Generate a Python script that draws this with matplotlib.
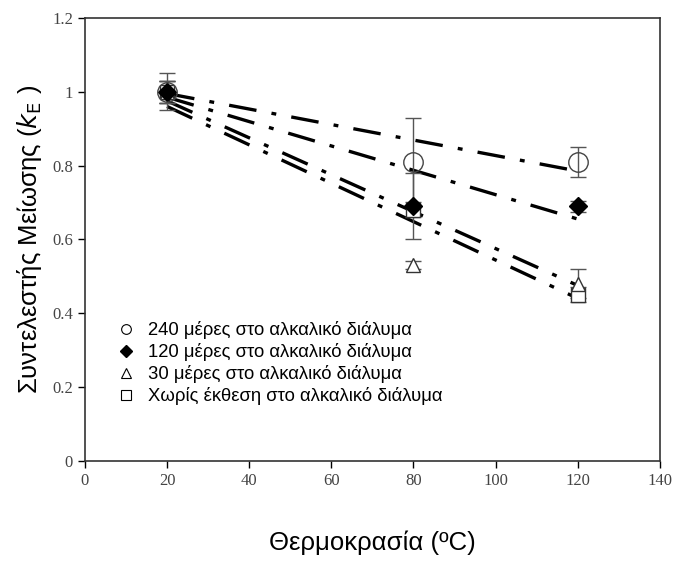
import matplotlib
matplotlib.use("Agg")
import matplotlib.pyplot as plt
from matplotlib.lines import Line2D

plt.rcParams['lines.scale_dashes'] = False

# temperatures (oC)
temps = [20, 80, 120]

# reduction factor kE per series
kE_240 = [1.00, 0.81, 0.81]
kE_120 = [1.00, 0.69, 0.69]
kE_30 = [1.00, 0.53, 0.48]
kE_0 = [1.00, 0.68, 0.45]

err_240 = [0.05, 0.12, 0.04]
err_120 = [0.03, 0.09, 0.015]
err_30 = [0.03, 0.01, 0.04]
err_0 = [0.03, 0.02, 0.02]

# fitted trend lines (start, end)
fit_x = [20, 120]
fit_240 = [0.995, 0.785]
fit_120 = [0.985, 0.655]
fit_30 = [0.975, 0.475]
fit_0 = [0.96, 0.44]

labels = [
    "240 μέρες στο αλκαλικό διάλυμα",
    "120 μέρες στο αλκαλικό διάλυμα",
    "30 μέρες στο αλκαλικό διάλυμα",
    "Χωρίς έκθεση στο αλκαλικό διάλυμα",
]

fig = plt.figure(figsize=(6.74, 5.76), dpi=100)
ax = fig.add_axes([0.126, 0.2, 0.853, 0.769])

dash = (0, (20, 11, 3.5, 11))
for fy in [fit_240, fit_120, fit_30, fit_0]:
    ax.plot(fit_x, fy, color="black", lw=2.4, linestyle=dash, dash_capstyle="butt", zorder=2)

ebkw = dict(fmt="none", ecolor="#555555", elinewidth=1.0, capsize=6, capthick=1.0, zorder=3)
ax.errorbar(temps, kE_0, yerr=err_0, **ebkw)
ax.errorbar(temps, kE_30, yerr=err_30, **ebkw)
ax.errorbar(temps, kE_120, yerr=err_120, **ebkw)
ax.errorbar(temps, kE_240, yerr=err_240, **ebkw)

ax.plot(temps, kE_0, "s", ms=10, mfc="white", mec="#333333", mew=1.0, zorder=4)
ax.plot(temps, kE_30, "^", ms=10, mfc="white", mec="#333333", mew=1.0, zorder=4)
ax.plot(temps, kE_120, "D", ms=9, mfc="black", mec="black", zorder=5)
ax.plot(temps, kE_240, "o", ms=14, mfc="none", mec="#444444", mew=1.0, zorder=6)

ax.set_xlim(0, 140)
ax.set_ylim(0, 1.2)
ax.set_xticks(range(0, 141, 20))
ax.set_yticks([0, 0.2, 0.4, 0.6, 0.8, 1.0, 1.2])
ax.set_yticklabels(["0", "0.2", "0.4", "0.6", "0.8", "1", "1.2"])
ax.tick_params(direction="out", length=5, width=1, labelsize=12, labelcolor="#444444",
               top=False, right=False)
for lab in ax.get_xticklabels() + ax.get_yticklabels():
    lab.set_family("Liberation Serif")
for sp in ax.spines.values():
    sp.set_linewidth(1.2)
    sp.set_color("#333333")

ax.set_xlabel("Θερμοκρασία (ºC)", fontsize=18.5, family="Liberation Sans", labelpad=30)
ax.set_ylabel("Συντελεστής Μείωσης ($k_{\\rm E}$ )", fontsize=18.5, family="Liberation Sans", labelpad=6)

handles = [
    Line2D([], [], ls="none", marker="o", ms=7, mfc="white", mec="black", mew=0.8),
    Line2D([], [], ls="none", marker="D", ms=6, mfc="black", mec="black"),
    Line2D([], [], ls="none", marker="^", ms=7, mfc="white", mec="black", mew=0.8),
    Line2D([], [], ls="none", marker="s", ms=7, mfc="white", mec="black", mew=0.8),
]
ax.legend(handles, labels, loc="lower left", bbox_to_anchor=(0.026, 0.088), frameon=False,
          prop={"family": "Liberation Sans", "size": 13.3}, handletextpad=0.7,
          labelspacing=0.22, handlelength=1.0)

fig.savefig("out.png", dpi=100)
